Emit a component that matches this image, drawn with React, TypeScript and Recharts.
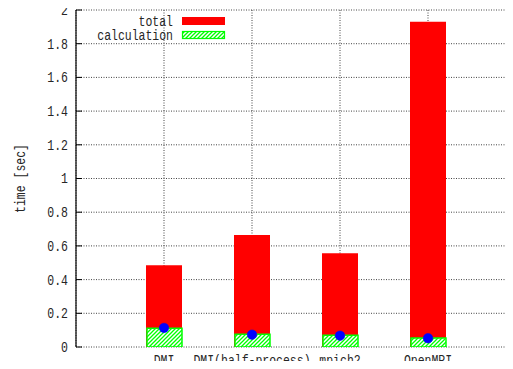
import React from 'react';
import {
  ComposedChart,
  Bar,
  Line,
  XAxis,
  YAxis,
  CartesianGrid,
} from 'recharts';

// Benchmark categories and measured times (seconds)
const categories = ['DMI', 'DMI(half-process)', 'mpich2', 'OpenMPI'];
const totalTime = [0.485, 0.665, 0.556, 1.93];
const calcTime = [0.111, 0.075, 0.069, 0.053];
const pointTime = [0.113, 0.073, 0.067, 0.052];
const yTicks = [0, 0.2, 0.4, 0.6, 0.8, 1, 1.2, 1.4, 1.6, 1.8, 2];

const data = categories.map((name, i) => ({
  name,
  total: totalTime[i],
  calc: calcTime[i],
  point: pointTime[i],
}));

const FONT = '"Liberation Mono", "DejaVu Sans Mono", monospace';
const TEXT = '#262626';
const RED = '#ff0000';
const GREEN = '#00ff00';
const BLUE = '#0000ff';

// Condensed monospace text (tall, narrow glyphs)
const NarrowText = ({ x, y, anchor = 'middle', rotate = 0, children }: any) => (
  <text
    transform={`translate(${x},${y}) rotate(${rotate}) scale(0.82,1)`}
    textAnchor={anchor}
    dy="0.35em"
    fontFamily={FONT}
    fontSize={14}
    fill={TEXT}
  >
    {children}
  </text>
);

const fmt = (v: number) => (Number.isInteger(v) ? String(v) : v.toFixed(1));

const YTick = ({ x, y, payload }: any) => (
  <NarrowText x={x} y={y} anchor="end">
    {fmt(payload.value)}
  </NarrowText>
);

// The tick anchor sits below the axis band; pull the label up under the axis line
const XTick = ({ x, y, payload }: any) => (
  <NarrowText x={x} y={y - 17} anchor="middle">
    {payload.value}
  </NarrowText>
);

const YLabel = ({ viewBox }: any) => (
  <NarrowText
    x={viewBox.x + 20}
    y={viewBox.y + viewBox.height / 2}
    anchor="middle"
    rotate={-90}
  >
    time [sec]
  </NarrowText>
);

const Empty = () => <g />;

const HatchPattern = ({ id }: { id: string }) => (
  <pattern id={id} patternUnits="userSpaceOnUse" width={4} height={4}>
    <rect width={4} height={4} fill="#ffffff" />
    <path
      d="M-1,1 l2,-2 M0,4 l4,-4 M3,5 l2,-2"
      stroke={GREEN}
      strokeWidth={1.3}
    />
  </pattern>
);

const LegendBox = () => (
  <svg
    width={240}
    height={46}
    style={{ position: 'absolute', left: 0, top: 0, pointerEvents: 'none' }}
  >
    <defs>
      <HatchPattern id="hatch-legend" />
    </defs>
    <NarrowText x={173} y={21} anchor="end">
      total
    </NarrowText>
    <rect x={182} y={17} width={43} height={8} fill={RED} />
    <NarrowText x={173} y={35} anchor="end">
      calculation
    </NarrowText>
    <rect
      x={182.5}
      y={31.5}
      width={42}
      height={7}
      fill="url(#hatch-legend)"
      stroke={GREEN}
      strokeWidth={1.2}
    />
  </svg>
);

const axisPadding = { left: 44, right: 44 };

export default function App() {
  return (
    <div
      style={{
        position: 'relative',
        margin: -8,
        width: 513,
        height: 369,
        overflow: 'hidden',
        background: '#ffffff',
      }}
    >
      <ComposedChart
        width={520}
        height={369}
        data={data}
        margin={{ top: 10, right: 4, bottom: 0, left: 0 }}
      >
        <defs>
          <HatchPattern id="hatch" />
        </defs>
        <CartesianGrid
          xAxisId="tot"
          stroke="#444444"
          strokeDasharray="1 1.5"
        />
        <XAxis
          xAxisId="tot"
          dataKey="name"
          padding={axisPadding}
          height={22}
          axisLine={{ stroke: '#000000', strokeWidth: 1.2 }}
          tickLine={false}
          tickSize={0}
          tickMargin={0}
          tick={<XTick />}
          interval={0}
        />
        <XAxis xAxisId="calc" dataKey="name" padding={axisPadding} hide />
        <XAxis
          xAxisId="top"
          dataKey="name"
          orientation="top"
          padding={axisPadding}
          height={0}
          axisLine={{ stroke: '#000000', strokeWidth: 1.2 }}
          tickLine={{ stroke: '#000000' }}
          tickSize={-6}
          tick={<Empty />}
          interval={0}
        />
        <YAxis
          width={76}
          domain={[0, 2]}
          ticks={yTicks}
          type="number"
          allowDataOverflow
          axisLine={{ stroke: '#000000', strokeWidth: 1.2 }}
          tickLine={{ stroke: '#000000' }}
          tickSize={-6}
          tickMargin={14}
          tick={<YTick />}
          interval={0}
          label={<YLabel />}
        />
        <Bar
          xAxisId="tot"
          dataKey="total"
          fill={RED}
          barSize={36}
          isAnimationActive={false}
        />
        <Bar
          xAxisId="calc"
          dataKey="calc"
          fill="url(#hatch)"
          stroke={GREEN}
          strokeWidth={1.5}
          barSize={35}
          isAnimationActive={false}
        />
        <Line
          xAxisId="tot"
          dataKey="point"
          stroke="none"
          dot={{ r: 4.8, fill: BLUE, stroke: BLUE, strokeWidth: 0.5 }}
          activeDot={false}
          isAnimationActive={false}
        />
      </ComposedChart>
      <LegendBox />
    </div>
  );
}
